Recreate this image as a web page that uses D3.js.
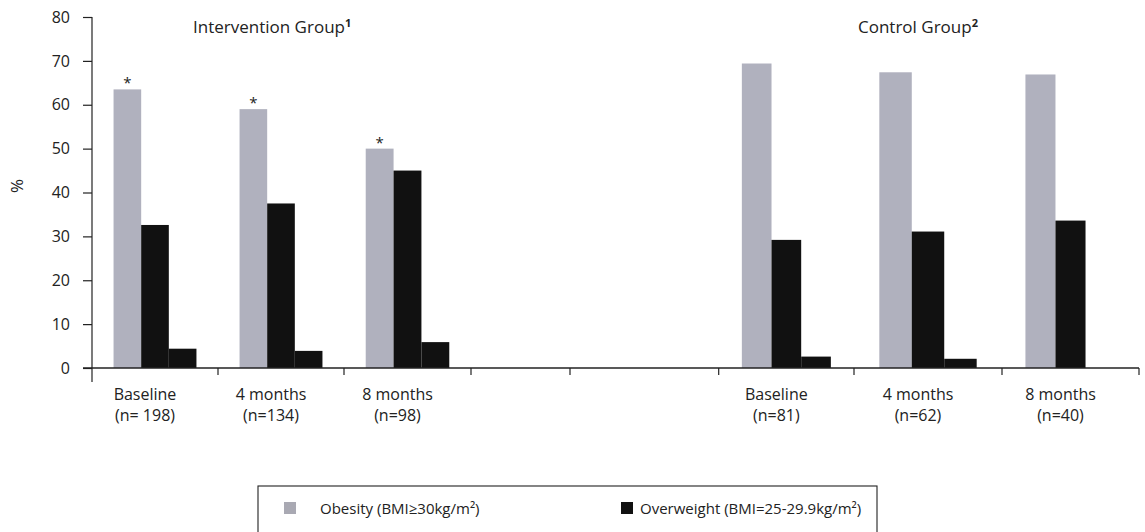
<!DOCTYPE html>
<html>
<head>
<meta charset="utf-8">
<script src="https://cdn.jsdelivr.net/npm/d3@7"></script>
<style>
  html, body { margin: 0; padding: 0; background: #fff; }
  svg { display: block; font-family: "Open Sans", "Noto Sans", sans-serif; }
</style>
</head>
<body>
<svg id="chart" width="1145" height="532"></svg>
<script>
// ---- data ----
const categories = ["Baseline", "4 months", "8 months", "", "", "Baseline", "4 months", "8 months"];
const sampleSizes = ["(n= 198)", "(n=134)", "(n=98)", "", "", "(n=81)", "(n=62)", "(n=40)"];
const obesity    = [63.5, 59.0, 50.0, null, null, 69.4, 67.4, 66.9];
const overweight = [32.6, 37.5, 45.0, null, null, 29.2, 31.1, 33.6];
const normal     = [4.4, 3.9, 5.9, null, null, 2.6, 2.1, 0];
const significant = [true, true, true, false, false, false, false, false];
const yTicks = [0, 10, 20, 30, 40, 50, 60, 70, 80];
const seriesNames = ["Obesity (BMI≥30kg/m²)", "Overweight (BMI=25-29.9kg/m²)", "Normal"];
const groupTitles = [
  { text: "Intervention Group", sup: "1", slot: 1, dx: -25 },
  { text: "Control Group", sup: "2", slot: 6, dx: 4 }
];

// ---- layout ----
const svg = d3.select("#chart");
const ink = "#222";
const colors = ["#b0b1be", "#111", "#111"];

const y = d3.scaleLinear().domain([0, 80]).range([368, 17]);
// category slot boundaries (irregular in the original figure)
const xEdge = d3.scaleLinear()
  .domain(d3.range(0, 9))
  .range([92, 218, 344, 471, 570, 718.7, 854, 1002, 1139]);

const series = [obesity, overweight, normal];

// bars
categories.forEach((c, i) => {
  const inner = d3.scaleBand().domain([0, 1, 2])
    .range([xEdge(i), xEdge(i + 1)]).paddingInner(0).paddingOuter(0.78);
  series.forEach((s, k) => {
    const v = s[i];
    if (v == null || v <= 0) return;
    svg.append("rect")
      .attr("x", inner(k))
      .attr("width", inner.bandwidth())
      .attr("y", y(v))
      .attr("height", y(0) - y(v))
      .attr("fill", colors[k]);
  });
  if (significant[i]) {
    svg.append("text")
      .attr("x", inner(0) + inner.bandwidth() / 2)
      .attr("y", y(obesity[i]) - 1)
      .attr("text-anchor", "middle")
      .attr("font-size", 15)
      .attr("fill", ink)
      .text("*");
  }
  if (c) {
    const cx = (xEdge(i) + xEdge(i + 1)) / 2 - 10;
    svg.append("text").attr("x", cx).attr("y", 400)
      .attr("text-anchor", "middle").attr("font-size", 16).attr("fill", ink).text(c);
    svg.append("text").attr("x", cx).attr("y", 421)
      .attr("text-anchor", "middle").attr("font-size", 16).attr("fill", ink).text(sampleSizes[i]);
  }
});

// y axis
const yAxis = d3.axisLeft(y).tickValues(yTicks).tickSize(9).tickPadding(13);
const gy = svg.append("g").attr("transform", `translate(${xEdge(0)},0)`).call(yAxis);
gy.select(".domain").remove();
gy.selectAll(".tick line").attr("stroke", ink).attr("stroke-width", 1.2);
gy.selectAll(".tick text").attr("font-size", 16).attr("fill", ink)
  .attr("font-family", "Open Sans, sans-serif");
svg.append("line")
  .attr("x1", xEdge(0)).attr("x2", xEdge(0))
  .attr("y1", y(80)).attr("y2", y(0) + 14)
  .attr("stroke", ink).attr("stroke-width", 1.2);

// x axis
svg.append("line")
  .attr("x1", xEdge(0) - 9).attr("x2", xEdge(8))
  .attr("y1", y(0)).attr("y2", y(0))
  .attr("stroke", ink).attr("stroke-width", 1.3);
svg.selectAll(".xtick").data(d3.range(1, 9)).join("line")
  .attr("class", "xtick")
  .attr("x1", d => xEdge(d)).attr("x2", d => xEdge(d))
  .attr("y1", y(0)).attr("y2", y(0) + 7)
  .attr("stroke", ink).attr("stroke-width", 1.2);

// y label
svg.append("text")
  .attr("transform", "translate(23,186) rotate(-90)")
  .attr("text-anchor", "middle").attr("font-size", 17).attr("fill", ink).text("%");

// group titles
groupTitles.forEach(g => {
  const t = svg.append("text")
    .attr("x", xEdge(g.slot) + g.dx).attr("y", 33)
    .attr("font-size", 17).attr("fill", ink);
  t.append("tspan").text(g.text);
  t.append("tspan").attr("dy", -6).attr("font-size", 11).attr("font-weight", "bold").text(g.sup);
});

// legend
svg.append("rect")
  .attr("x", 258).attr("y", 486).attr("width", 619).attr("height", 70)
  .attr("fill", "none").attr("stroke", ink).attr("stroke-width", 1.1);
const legendItems = [
  { name: seriesNames[0], color: "#a9a9b3", sx: 284, tx: 320 },
  { name: seriesNames[1], color: colors[1], sx: 621, tx: 640 }
];
legendItems.forEach(l => {
  svg.append("rect").attr("x", l.sx).attr("y", 502).attr("width", 12).attr("height", 12)
    .attr("fill", l.color);
  svg.append("text").attr("x", l.tx).attr("y", 514)
    .attr("font-size", 15).attr("fill", ink).text(l.name);
});
</script>
</body>
</html>
